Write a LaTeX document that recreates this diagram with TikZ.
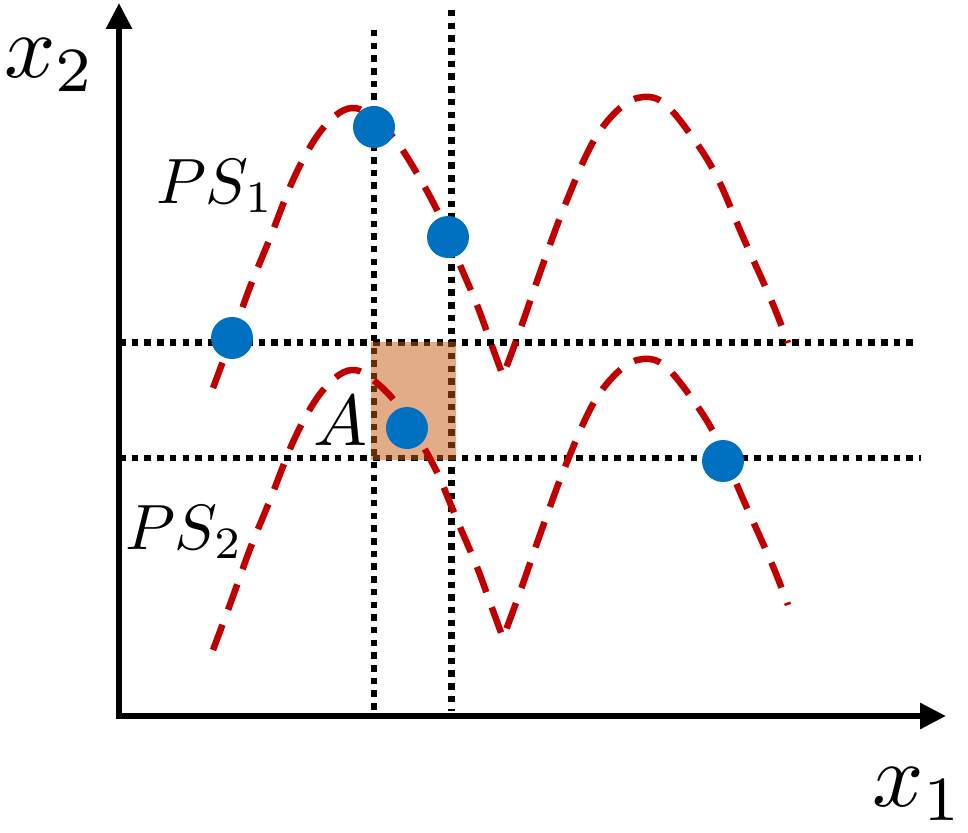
\documentclass[tikz,border=0pt]{standalone}
\usepackage{graphicx}
\usetikzlibrary{arrows.meta}
\definecolor{psred}{HTML}{C00000}
\definecolor{ptblue}{HTML}{0070C0}
\definecolor{boxorange}{HTML}{C55A11}
\tikzset{
  axis/.style={line width=6pt, line join=miter},
  grid dot/.style={line width=6.5pt, dash pattern=on 6.5pt off 6.2pt},
  front/.style={line width=6.5pt, psred, dash pattern=on 27pt off 16pt},
  pt/.style={circle, fill=ptblue, minimum size=42pt, inner sep=0pt},
  lab/.style={inner sep=0pt}
}
\begin{document}
\begin{tikzpicture}[x=1pt,y=-1pt]
\useasboundingbox (0,0) rectangle (968,832);
% axes
\coordinate (ytip) at (119,3);
\coordinate (orig) at (119,716);
\coordinate (xtip) at (946,716);
\draw[axis, {Triangle[length=26pt,width=25pt]}-{Triangle[length=26pt,width=25pt]}] (ytip) -- (orig) -- (xtip);
\node[lab] (x2) at (50,65) {\scalebox{9}{$x_2$}};
\node[lab] (x1) at (918,794) {\scalebox{9}{$x_1$}};
% dotted grid lines
\coordinate (v1t) at (374,30); \coordinate (v1b) at (374,713);
\coordinate (v2t) at (451.5,10); \coordinate (v2b) at (451.5,711);
\coordinate (h1l) at (119,342.5); \coordinate (h1r) at (915,342.5);
\coordinate (h2l) at (119,458); \coordinate (h2r) at (921,458);
\draw[grid dot] (v1t) -- (v1b);
\draw[grid dot] (v2t) -- (v2b);
\draw[grid dot] (h1l) -- (h1r);
\draw[grid dot] (h2l) -- (h2r);
% region A
\fill[boxorange, opacity=0.5] (371,342) rectangle (456,460);
% Pareto fronts
\def\psone{plot[smooth, tension=0.6] coordinates {(213,388) (232,337) (250,287) (270,238) (293,180) (315,139) (335,116) (352,108) (368,114) (393,137) (415,170) (437,210) (448,236) (460,265) (477,305) (492,346) (503,376)}
  -- plot[smooth, tension=0.6] coordinates {(503,376) (520,330) (542,267) (565,205) (593,142) (620,108) (643,97) (665,104) (693,138) (717,177) (743,237) (772,302) (788,343)}}
\draw[front] \psone;
\begin{scope}[yshift=-262pt]
\draw[front] \psone;
\end{scope}
% points
\node[pt] (p1) at (374,127) {};
\node[pt] (p2) at (448,237) {};
\node[pt] (p3) at (232,338) {};
\node[pt] (p4) at (407,428) {};
\node[pt] (p5) at (723,461) {};
% labels
\node[lab] (ps1) at (215,186) {\scalebox{6.4}{$PS_1$}};
\node[lab] (ps2) at (184,532) {\scalebox{6.4}{$PS_2$}};
\node[lab] (A) at (340,421) {\scalebox{7.2}{$A$}};
\end{tikzpicture}
\end{document}
